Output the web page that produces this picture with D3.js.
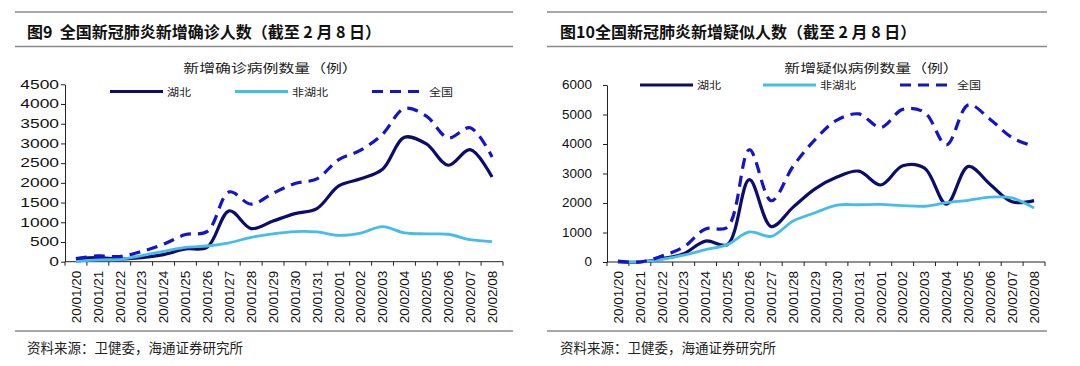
<!DOCTYPE html>
<html><head><meta charset="utf-8">
<script src="https://cdn.jsdelivr.net/npm/d3@7"></script>
<style>
body{margin:0;background:#fff;}
svg{display:block;}
text{white-space:pre;}
</style></head>
<body>
<svg id="c" width="1080" height="366"></svg>
<script>
const dates = ["20/01/20","20/01/21","20/01/22","20/01/23","20/01/24","20/01/25","20/01/26","20/01/27","20/01/28","20/01/29","20/01/30","20/01/31","20/02/01","20/02/02","20/02/03","20/02/04","20/02/05","20/02/06","20/02/07","20/02/08"];

const confirmedHubei    = [72,105,69,105,180,323,371,1291,840,1032,1220,1347,1921,2103,2345,3156,2987,2447,2841,2147];
const confirmedNonHubei = [5,44,62,154,264,365,398,480,619,705,762,755,669,726,890,731,707,696,558,509];
const confirmedNational = [77,149,131,259,444,688,769,1771,1459,1737,1982,2102,2590,2829,3235,3887,3694,3143,3399,2656];

const suspectHubei    = [0,0,110,280,710,590,2790,1200,1860,2480,2880,3080,2610,3260,3180,1960,3240,2630,2040,2080];
const suspectNonHubei = [0,0,90,230,420,590,1020,870,1390,1670,1930,1940,1950,1910,1890,2010,2090,2200,2170,1830];
const suspectNational = [30,0,200,510,1120,1180,3806,2077,3248,4148,4812,5019,4562,5173,5072,3971,5328,4833,4214,3916];

const ticksConfirmed = [0,500,1000,1500,2000,2500,3000,3500,4000,4500];
const ticksSuspect = [0,1000,2000,3000,4000,5000,6000];

const seriesNames = ["湖北","非湖北","全国"];
const titles = ["图9  全国新冠肺炎新增确诊人数（截至 2 月 8 日）","图10全国新冠肺炎新增疑似人数（截至 2 月 8 日）"];
const subtitles = ["新增确诊病例数量（例）","新增疑似病例数量（例）"];
const sourceText = "资料来源：卫健委，海通证券研究所";

const CJK = "'Noto Sans CJK SC','Noto Sans',sans-serif";
const LAT = "'Liberation Sans',Arial,sans-serif";
const colors = ["#0c0c6e","#45bdec","#1414c8"];

const svg = d3.select("#c");

function drawPanel(cfg){
  const g = svg.append("g");
  [cfg.ruleTop, cfg.ruleMid, cfg.ruleBot].forEach(y=>{
    g.append("line").attr("x1",cfg.rx0).attr("x2",cfg.rx1).attr("y1",y).attr("y2",y)
      .attr("stroke","#8a8a8a").attr("stroke-width",1.5);
  });
  g.append("text").attr("x",cfg.titleX).attr("y",37.5).text(cfg.title)
    .attr("font-family",CJK).attr("font-size",16).attr("font-weight",700).attr("fill","#111");
  g.append("text").attr("x",cfg.titleX).attr("y",353).text(sourceText)
    .attr("font-family",CJK).attr("font-size",13.5).attr("fill","#222");

  const x = d3.scaleBand().domain(dates).range([cfg.x0,cfg.x1]);
  const y = d3.scaleLinear().domain([0,cfg.max]).range([cfg.y0,cfg.yTop]);

  const ya = g.append("g").attr("transform",`translate(${cfg.x0},0)`)
    .call(d3.axisLeft(y).tickValues(cfg.ticks).tickFormat(d3.format("d")).tickSize(4).tickPadding(cfg.pad).tickSizeOuter(0));
  ya.select(".domain").attr("stroke","#222");
  ya.selectAll(".tick line").attr("stroke","#222");
  ya.selectAll(".tick text").attr("font-family",LAT).attr("font-size",12).attr("fill","#111")
    .attr("x",-(4+cfg.pad)/cfg.sx).attr("transform",`scale(${cfg.sx},1)`);

  const xa = g.append("g").attr("transform",`translate(0,${cfg.y0})`);
  xa.append("line").attr("x1",cfg.x0).attr("x2",cfg.x1).attr("stroke","#222");
  const edges = dates.map(d=>x(d)).concat([x(dates[dates.length-1])+x.bandwidth()]);
  xa.selectAll(".tk").data(edges).join("line").attr("class","tk")
    .attr("x1",d=>d).attr("x2",d=>d).attr("y1",0).attr("y2",4).attr("stroke","#222");
  xa.selectAll(".lb").data(dates).join("text").attr("class","lb")
    .attr("transform",d=>`translate(${x(d)+x.bandwidth()/2+4.8},9) rotate(-90)`)
    .attr("text-anchor","end").attr("font-family",LAT).attr("font-size",13.5).attr("fill","#111")
    .text(d=>d);

  const line = d3.line().x((d,i)=>x(dates[i])+x.bandwidth()/2).y(d=>y(d)).curve(d3.curveCatmullRom.alpha(0.5));
  const styles = [
    {w:3.2,dash:null},{w:2.8,dash:null},{w:3.2,dash:"11,7"}
  ];
  [cfg.s1,cfg.s2,cfg.s3].forEach((s,k)=>{
    g.append("path").attr("d",line(s)).attr("fill","none").attr("stroke",colors[k])
      .attr("stroke-width",styles[k].w).attr("stroke-dasharray",styles[k].dash);
  });

  g.append("text").attr("transform",`translate(${cfg.subX},72.5) scale(1.27,1)`)
    .attr("text-anchor","middle").attr("font-family",CJK).attr("font-size",12.5).attr("fill","#222")
    .text(cfg.subtitle);

  cfg.leg.forEach((lg,k)=>{
    g.append("line").attr("x1",lg[0]).attr("x2",lg[0]+53).attr("y1",cfg.legY).attr("y2",cfg.legY)
      .attr("stroke",colors[k]).attr("stroke-width",styles[k].w).attr("stroke-dasharray",styles[k].dash);
    g.append("text").attr("transform",`translate(${lg[0]+57},${cfg.legY+4}) scale(1.15,1)`)
      .attr("font-family",CJK).attr("font-size",10.5).attr("fill","#222").text(seriesNames[k]);
  });
}

drawPanel({rx0:15,rx1:513,ruleTop:12,ruleMid:46.5,ruleBot:331,titleX:27,title:titles[0],
  x0:65,x1:503,y0:261.7,yTop:84.3,max:4500,ticks:ticksConfirmed,pad:2,sx:1.45,
  s1:confirmedHubei,s2:confirmedNonHubei,s3:confirmedNational,subX:270.5,subtitle:subtitles[0],
  legY:91.5,leg:[[110],[235],[372]]});
drawPanel({rx0:547,rx1:1047,ruleTop:12,ruleMid:46.5,ruleBot:331,titleX:560,title:titles[1],
  x0:607,x1:1045,y0:262,yTop:85,max:6000,ticks:ticksSuspect,pad:11,sx:1.12,
  s1:suspectHubei,s2:suspectNonHubei,s3:suspectNational,subX:871.5,subtitle:subtitles[1],
  legY:85,leg:[[640],[763],[900]]});
</script>
</body></html>
